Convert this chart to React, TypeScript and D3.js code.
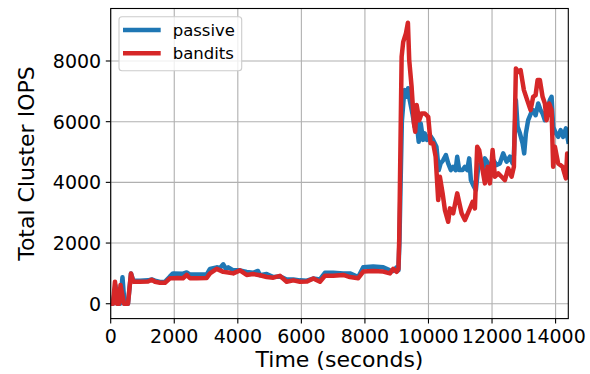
import React from "react";
import * as d3 from "d3";

// Time (seconds) and total IOPS samples for each policy
const passiveTime = [0, 72, 150, 214, 293, 371, 434, 544, 638, 711, 922, 1173, 1290, 1394, 1551, 1708, 1865, 1960, 2275, 2391, 2495, 2706, 3020, 3124, 3335, 3439, 3542, 3627, 3700, 3857, 4068, 4279, 4477, 4634, 4697, 4908, 5115, 5326, 5537, 5745, 5955, 6166, 6374, 6585, 6742, 7003, 7318, 7528, 7789, 7947, 8261, 8576, 8787, 8891, 8998, 9054, 9085, 9162, 9224, 9255, 9306, 9357, 9410, 9494, 9567, 9621, 9693, 9756, 9829, 9882, 9955, 10040, 10144, 10250, 10323, 10382, 10464, 10548, 10621, 10706, 10778, 10854, 10904, 10967, 11074, 11146, 11218, 11282, 11335, 11407, 11492, 11565, 11640, 11722, 11775, 11879, 11955, 12037, 12144, 12247, 12351, 12458, 12562, 12647, 12688, 12751, 12805, 12877, 12962, 13012, 13065, 13137, 13222, 13295, 13371, 13453, 13528, 13591, 13663, 13736, 13820, 13874, 13924, 14009, 14081, 14157, 14239, 14324, 14400];
const passiveIops = [0, 0, 600, 0, 0, 870, 0, 0, 1000, 760, 760, 770, 800, 760, 720, 720, 900, 1000, 990, 1030, 960, 960, 960, 1150, 1200, 1180, 1300, 1150, 1200, 1100, 1100, 1050, 1020, 1080, 940, 980, 880, 900, 800, 800, 770, 760, 830, 800, 1020, 1020, 1000, 1000, 880, 1200, 1230, 1200, 1100, 1080, 1200, 1100, 2000, 6000, 6820, 7040, 6820, 7100, 6710, 6270, 5830, 6050, 5340, 5940, 5400, 5615, 5400, 5560, 5400, 5175, 4405, 4625, 4735, 4900, 4625, 4405, 4514, 4405, 4845, 4405, 4405, 4514, 4405, 4790, 4075, 3910, 3746, 4514, 4625, 4405, 4790, 4625, 4514, 4735, 4570, 4625, 4955, 4680, 4845, 4625, 4900, 6710, 5830, 5615, 5285, 4955, 5615, 6050, 6270, 6380, 6215, 6600, 6380, 6270, 6050, 6380, 6710, 6820, 5830, 5615, 5500, 5720, 5500, 5780, 5340];

const banditsTime = [0, 72, 135, 198, 261, 308, 355, 418, 544, 638, 711, 922, 1173, 1290, 1394, 1551, 1708, 1865, 1960, 2117, 2275, 2391, 2495, 2706, 3020, 3124, 3335, 3542, 3700, 3857, 4068, 4279, 4477, 4697, 4908, 5115, 5326, 5537, 5745, 5955, 6166, 6374, 6585, 6742, 7003, 7318, 7528, 7789, 7947, 8261, 8576, 8787, 8891, 8998, 9054, 9079, 9155, 9205, 9290, 9353, 9394, 9469, 9542, 9583, 9627, 9709, 9784, 9888, 9992, 10067, 10149, 10225, 10306, 10360, 10445, 10517, 10621, 10675, 10778, 10904, 11042, 11146, 11282, 11389, 11461, 11533, 11596, 11703, 11775, 11860, 11933, 12018, 12090, 12194, 12301, 12405, 12509, 12615, 12688, 12751, 12823, 12899, 13003, 13107, 13213, 13295, 13371, 13434, 13506, 13591, 13663, 13717, 13798, 13874, 13924, 13978, 14081, 14220, 14324, 14365, 14400];
const banditsIops = [0, 0, 725, 0, 0, 620, 350, 0, 0, 1000, 725, 725, 730, 790, 725, 690, 690, 840, 840, 850, 840, 950, 840, 840, 850, 1000, 1150, 1050, 1030, 1000, 1100, 950, 980, 940, 880, 860, 920, 725, 770, 725, 730, 830, 725, 920, 920, 950, 880, 840, 1060, 1080, 1060, 1000, 1150, 1050, 1150, 2100, 8140, 8630, 8910, 9260, 8030, 7150, 5940, 5670, 6550, 6050, 6270, 6270, 6160, 5285, 5285, 4845, 3417, 4185, 3638, 3088, 2700, 3143, 2980, 3638, 2980, 2758, 3088, 3360, 3140, 5175, 5065, 4405, 3967, 4514, 3967, 5065, 4185, 4295, 4185, 4075, 4460, 4185, 4514, 7756, 7645, 7700, 7040, 6710, 6380, 6820, 6875, 7370, 7370, 6820, 6600, 6050, 6600, 6380, 4514, 5175, 4625, 4514, 4130, 4955, 4900];

const xTicks = [0, 2000, 4000, 6000, 8000, 10000, 12000, 14000];
const yTicks = [0, 2000, 4000, 6000, 8000];
const seriesNames = ["passive", "bandits"];
const seriesColors = ["#1f77b4", "#d62728"];

const W = 590;
const H = 374;
const left = 110.7;
const right = 568.3;
const top = 8.5;
const bottom = 318.6;
const font = "DejaVu Sans, Bitstream Vera Sans, sans-serif";

export default function App() {
  const x = d3.scaleLinear().domain([0, 14400]).range([left, right]);
  const y = d3.scaleLinear().domain([-490, 9730]).range([bottom, top]);

  const line = d3
    .line<[number, number]>()
    .x((d) => x(d[0]))
    .y((d) => y(d[1]));

  const passive = passiveTime.map((t, i) => [t, passiveIops[i]] as [number, number]);
  const bandits = banditsTime.map((t, i) => [t, banditsIops[i]] as [number, number]);
  const series = [passive, bandits];

  const tickFont = 19;
  const labelFont = 22;
  const legendFont = 16.5;

  return (
    <div style={{ position: "absolute", left: 0, top: 0 }}>
      <svg width={W} height={H} style={{ display: "block", background: "#fff" }}>
        <defs>
          <clipPath id="plot-area">
            <rect x={left} y={top} width={right - left} height={bottom - top} />
          </clipPath>
        </defs>
        {/* grid */}
        <g stroke="#b0b0b0" strokeWidth={1.1}>
          {xTicks.map((t) => (
            <line key={"gx" + t} x1={x(t)} x2={x(t)} y1={top} y2={bottom} />
          ))}
          {yTicks.map((t) => (
            <line key={"gy" + t} x1={left} x2={right} y1={y(t)} y2={y(t)} />
          ))}
        </g>
        {/* series */}
        <g clipPath="url(#plot-area)" fill="none" strokeWidth={4.5} strokeLinejoin="round" strokeLinecap="square">
          {series.map((s, i) => (
            <path key={seriesNames[i]} d={line(s) ?? ""} stroke={seriesColors[i]} />
          ))}
        </g>
        {/* frame */}
        <rect x={left} y={top} width={right - left} height={bottom - top} fill="none" stroke="#000" strokeWidth={1.1} />
        {/* axes ticks and labels */}
        <g fontFamily={font} fontSize={tickFont} fill="#000">
          {xTicks.map((t) => (
            <g key={"xt" + t}>
              <line x1={x(t)} x2={x(t)} y1={bottom} y2={bottom + 4.9} stroke="#000" strokeWidth={1.1} />
              <text x={x(t)} y={bottom + 24} textAnchor="middle">
                {d3.format("d")(t)}
              </text>
            </g>
          ))}
          {yTicks.map((t) => (
            <g key={"yt" + t}>
              <line x1={left - 4.9} x2={left} y1={y(t)} y2={y(t)} stroke="#000" strokeWidth={1.1} />
              <text x={left - 9.5} y={y(t) + 7} textAnchor="end">
                {d3.format("d")(t)}
              </text>
            </g>
          ))}
        </g>
        <text x={(left + right) / 2} y={H - 7} textAnchor="middle" fontFamily={font} fontSize={labelFont}>
          Time (seconds)
        </text>
        <text
          transform={`translate(${34},${(top + bottom) / 2}) rotate(-90)`}
          textAnchor="middle"
          fontFamily={font}
          fontSize={labelFont}
        >
          Total Cluster IOPS
        </text>
        {/* legend */}
        <g>
          <rect x={119} y={16.7} width={122.7} height={54} rx={3} fill="#fff" fillOpacity={0.8} stroke="#cccccc" strokeWidth={1.1} />
          {seriesNames.map((n, i) => (
            <g key={"lg" + n}>
              <line x1={123} x2={160.7} y1={30 + i * 23.3} y2={30 + i * 23.3} stroke={seriesColors[i]} strokeWidth={4.5} />
              <text x={172.7} y={30 + i * 23.3 + 5.8} fontFamily={font} fontSize={legendFont}>
                {n}
              </text>
            </g>
          ))}
        </g>
      </svg>
    </div>
  );
}
